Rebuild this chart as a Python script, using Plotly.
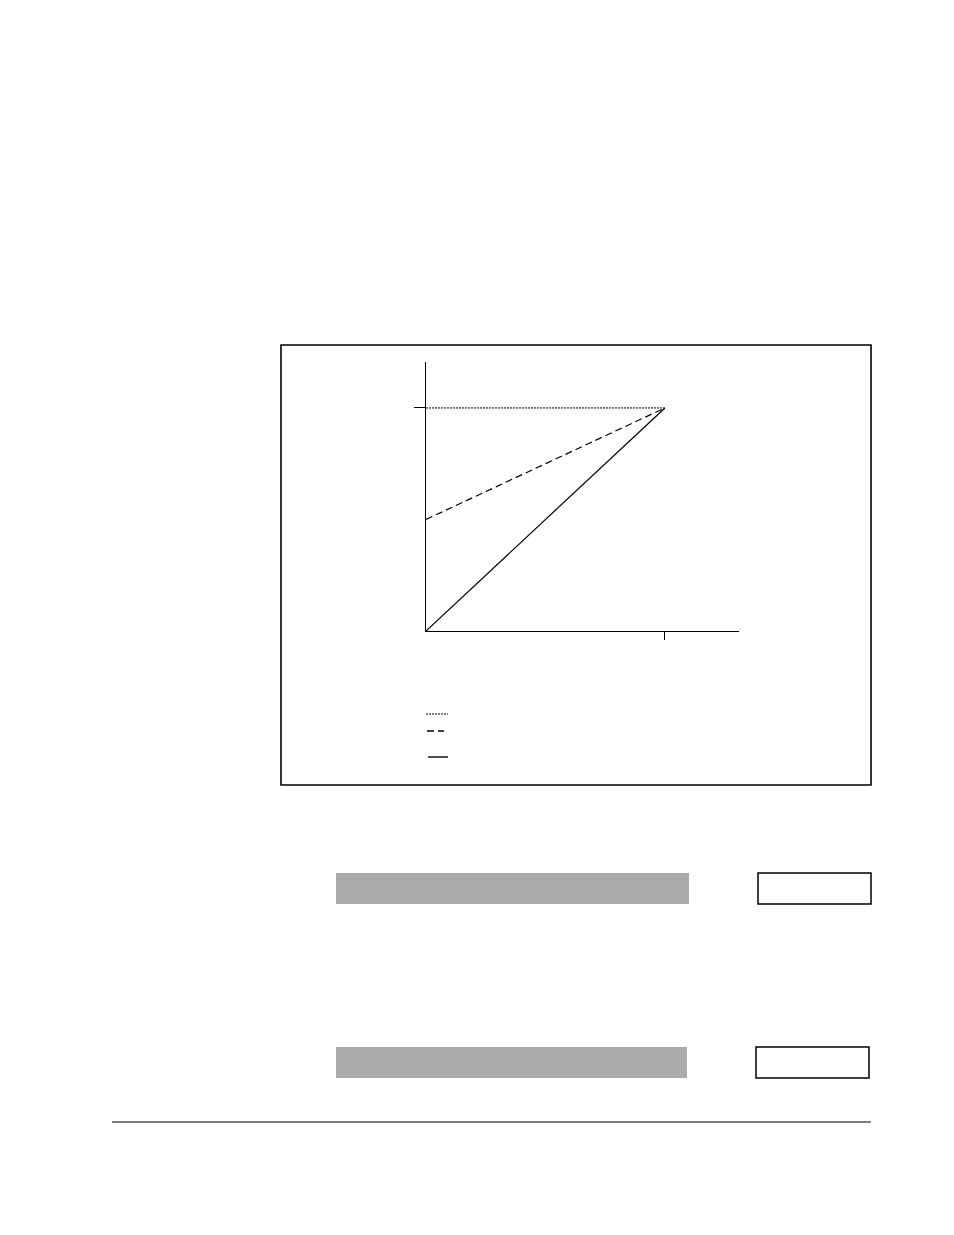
import plotly.graph_objects as go

# Page size of the scanned sheet
W, H = 954, 1235
OFF = 8  # browser body margin

# Chart data: three lines that all meet at (1, 1)
x_end = [0, 1]
flat_y = [1, 1]          # dotted: constant
half_y = [0.5, 1]        # dashed: starts halfway
full_y = [0, 1]          # solid: from origin

x_ticks = [1]
y_ticks = [1]


def px(x):
    return (x - OFF) / W


def py(y):
    return 1 - (y - OFF) / H


fig = go.Figure()

fig.add_trace(go.Scatter(x=x_end, y=flat_y, mode='lines',
                         line=dict(color='black', width=1, dash='2px,1px')))
fig.add_trace(go.Scatter(x=x_end, y=half_y, mode='lines',
                         line=dict(color='black', width=1.2, dash='7px,4px')))
fig.add_trace(go.Scatter(x=x_end, y=full_y, mode='lines',
                         line=dict(color='black', width=1.2)))

shapes = []

# outer frame around the figure
shapes.append(dict(type='rect', xref='paper', yref='paper',
                   x0=px(281), x1=px(871), y0=py(785), y1=py(345),
                   line=dict(color='black', width=1.6)))

# legend samples (no labels in the scan)
legend_styles = [(714, 426, 448, '2px,1px', 1), (731, 427, 444, '7px,4px', 1.3),
                 (757, 428, 448, 'solid', 1.4)]
for yy, xa, xb, dash, w in legend_styles:
    shapes.append(dict(type='line', xref='paper', yref='paper',
                       x0=px(xa), x1=px(xb), y0=py(yy), y1=py(yy),
                       line=dict(color='black', width=w, dash=dash)))

# grey answer bars and empty boxes
for top, bar_r, box_l, box_r in [(873, 689, 758, 871), (1047, 687, 756, 869)]:
    shapes.append(dict(type='rect', xref='paper', yref='paper',
                       x0=px(336), x1=px(bar_r), y0=py(top + 31), y1=py(top),
                       fillcolor='#ababab', line=dict(width=0)))
    shapes.append(dict(type='rect', xref='paper', yref='paper',
                       x0=px(box_l), x1=px(box_r), y0=py(top + 31), y1=py(top),
                       line=dict(color='black', width=1.5)))

# rule at the bottom of the page
shapes.append(dict(type='line', xref='paper', yref='paper',
                   x0=px(112), x1=px(871), y0=py(1122), y1=py(1122),
                   line=dict(color='black', width=1)))

fig.update_layout(
    width=W, height=H,
    margin=dict(l=0, r=0, t=0, b=0),
    paper_bgcolor='white', plot_bgcolor='white',
    showlegend=False,
    shapes=shapes,
    xaxis=dict(domain=[px(426), px(739)], range=[0, 1.31],
               showgrid=False, zeroline=False, showline=True,
               linecolor='black', linewidth=1.2,
               tickvals=x_ticks, ticks='outside', ticklen=8,
               tickcolor='black', tickwidth=1, showticklabels=False),
    yaxis=dict(domain=[py(631), py(362)], range=[0, 1.206],
               showgrid=False, zeroline=False, showline=True,
               linecolor='black', linewidth=1.2,
               tickvals=y_ticks, ticks='outside', ticklen=11,
               tickcolor='black', tickwidth=1, showticklabels=False),
)

fig.write_html("out.html")
